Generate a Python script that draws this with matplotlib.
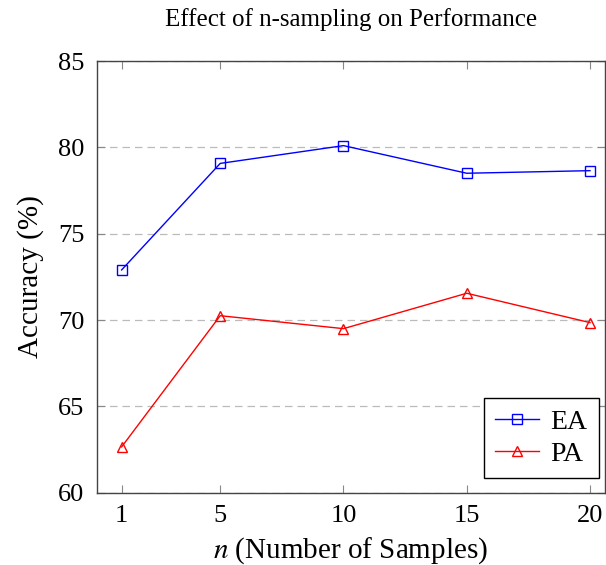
import matplotlib
matplotlib.use('Agg')
import matplotlib.pyplot as plt

# Data
n_samples = [1, 5, 10, 15, 20]
ea_acc = [72.9, 79.07, 80.1, 78.5, 78.65]
pa_acc = [62.65, 70.25, 69.5, 71.55, 69.85]
y_ticks = [60, 65, 70, 75, 80, 85]

plt.rcParams['font.family'] = 'Liberation Serif'
plt.rcParams['mathtext.fontset'] = 'stix'

fig = plt.figure(figsize=(6.06, 5.65), dpi=100)
ax = fig.add_axes([0.160, 0.128, 0.838, 0.764])

ax.plot(n_samples, ea_acc, color='blue', lw=1.0, marker='s', markersize=7.5,
        markerfacecolor='none', markeredgecolor='blue', markeredgewidth=1.0, label='EA')
ax.plot(n_samples, pa_acc, color='red', lw=1.0, marker='^', markersize=6.5,
        markerfacecolor='none', markeredgecolor='red', markeredgewidth=1.0, label='PA')

ax.set_xlim(0, 20.6)
ax.set_ylim(60, 85)
ax.set_xticks(n_samples)
ax.set_yticks(y_ticks)
ax.yaxis.grid(True, linestyle=(0, (6, 4)), color='#bbbbbb', lw=0.9)
ax.set_axisbelow(True)

ax.tick_params(direction='in', length=6, width=0.8, color='#888888',
               top=True, right=True, labelsize=19, pad=9)
for s in ax.spines.values():
    s.set_color('#444444')
    s.set_linewidth(1.0)

ax.set_title('Effect of n-sampling on Performance', fontsize=18, pad=25)
ax.set_xlabel(r'$n$ (Number of Samples)', fontsize=21, labelpad=6)
ax.set_ylabel('Accuracy (%)', fontsize=21, labelpad=10)

leg = ax.legend(loc='lower right', bbox_to_anchor=(0.988, 0.034), borderaxespad=0,
                fontsize=20, fancybox=False, edgecolor='black', framealpha=1,
                handlelength=1.6, handletextpad=0.4, borderpad=0.4, labelspacing=0.25)
leg.get_frame().set_linewidth(1.0)

fig.savefig('out.png', dpi=100)
